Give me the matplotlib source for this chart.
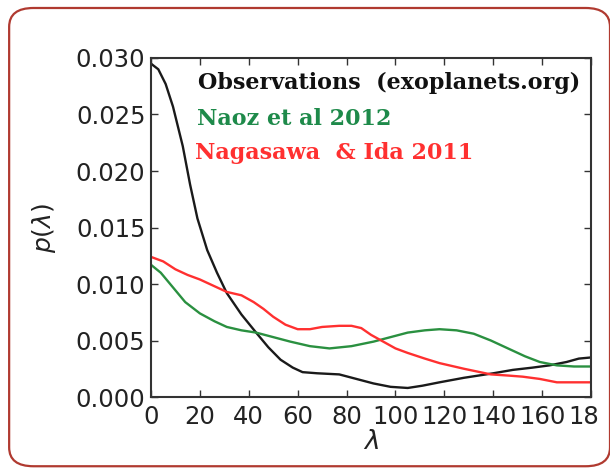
import matplotlib
matplotlib.use("Agg")
import matplotlib.pyplot as plt
from matplotlib.patches import FancyBboxPatch
from matplotlib.transforms import Bbox, TransformedBbox

# Data
obs_x = [0, 3, 6, 9, 13, 16, 19, 23, 27, 31, 37, 43, 48, 53, 58, 62, 68, 77, 84, 91, 98, 105, 111, 118, 128, 140, 148, 156, 163, 170, 175, 180]
obs_y = [0.0295, 0.0290, 0.0277, 0.0257, 0.0222, 0.0188, 0.0158, 0.0130, 0.0110, 0.0092, 0.0073, 0.0057, 0.0044, 0.0033, 0.0026, 0.0022, 0.0021, 0.0020, 0.0016, 0.0012, 0.0009, 0.0008, 0.0010, 0.0013, 0.0017, 0.0021, 0.0024, 0.0026, 0.0028, 0.0031, 0.0034, 0.0035]

naoz_x = [0, 4, 9, 14, 20, 26, 31, 37, 43, 50, 57, 65, 73, 82, 91, 98, 105, 112, 118, 125, 132, 139, 146, 153, 159, 166, 173, 180]
naoz_y = [0.0117, 0.0110, 0.0097, 0.0084, 0.0074, 0.0067, 0.0062, 0.0059, 0.0057, 0.0053, 0.0049, 0.0045, 0.0043, 0.0045, 0.0049, 0.0053, 0.0057, 0.0059, 0.0060, 0.0059, 0.0056, 0.0050, 0.0043, 0.0036, 0.0031, 0.0028, 0.0027, 0.0027]

naga_x = [0, 5, 10, 15, 20, 26, 31, 37, 42, 46, 50, 55, 60, 65, 70, 77, 82, 86, 90, 95, 100, 105, 112, 118, 128, 139, 146, 152, 159, 166, 173, 180]
naga_y = [0.0124, 0.0120, 0.0113, 0.0108, 0.0104, 0.0098, 0.0093, 0.0090, 0.0084, 0.0078, 0.0071, 0.0064, 0.0060, 0.0060, 0.0062, 0.0063, 0.0063, 0.0061, 0.0055, 0.0049, 0.0043, 0.0039, 0.0034, 0.0030, 0.0025, 0.0020, 0.0019, 0.0018, 0.0016, 0.0013, 0.0013, 0.0013]

xticks = [0, 20, 40, 60, 80, 100, 120, 140, 160, 180]
yticks = [0.000, 0.005, 0.010, 0.015, 0.020, 0.025, 0.030]

labels = ["Observations  (exoplanets.org)", "Naoz et al 2012", "Nagasawa  & Ida 2011"]
colors = ["#111111", "#1e8a4a", "#ff3030"]

fig = plt.figure(figsize=(6.1, 4.7), dpi=100)

# rounded border
border = FancyBboxPatch((0.015, 0.008), 0.985, 0.975,
                        boxstyle="round,pad=0,rounding_size=0.04",
                        transform=fig.transFigure, facecolor="white",
                        edgecolor="#b03a30", linewidth=1.6, zorder=-5)
fig.patches.append(border)

ax = fig.add_axes([0.2475, 0.1553, 0.7215, 0.7213])
ax.set_zorder(2)
ax.set_facecolor("none")
ax.plot(obs_x, obs_y, color="#1a1a1a", lw=1.7)
ax.plot(naoz_x, naoz_y, color="#2a9040", lw=1.7)
ax.plot(naga_x, naga_y, color="#ff3030", lw=1.7)

ax.set_xlim(0, 180)
ax.set_ylim(0, 0.030)
ax.set_xticks(xticks)
ax.set_xticklabels([str(t) for t in xticks])
ax.set_yticks(yticks)
ax.set_yticklabels([f"{t:.3f}" for t in yticks])
ax.tick_params(direction="in", length=5, width=1, top=True, right=True,
               labelsize=17.5, colors="#333333", labelcolor="#222222", pad=4)
ax.tick_params(axis="x", pad=6)
for s in ax.spines.values():
    s.set_linewidth(1.5)
    s.set_color("#333333")

ax.set_xlabel(r"$\lambda$", fontsize=19, labelpad=0, color="#222222")
ax.set_ylabel(r"$p(\lambda)$", fontsize=18, labelpad=13, color="#222222")

clipbox = TransformedBbox(Bbox([[0, 0], [600 / 610, 1]]), fig.transFigure)
for t in ax.get_xticklabels():
    t.set_clip_box(clipbox)
    t.set_clip_on(True)

for lab, c, xx, yy in zip(labels, colors, [19.2, 18.8, 18.0], [0.0278, 0.0246, 0.0216]):
    ax.text(xx, yy, lab, color=c, fontsize=16, fontweight="bold",
            family=["DejaVu Serif"], va="center", ha="left")

fig.savefig("out.png", dpi=100)
